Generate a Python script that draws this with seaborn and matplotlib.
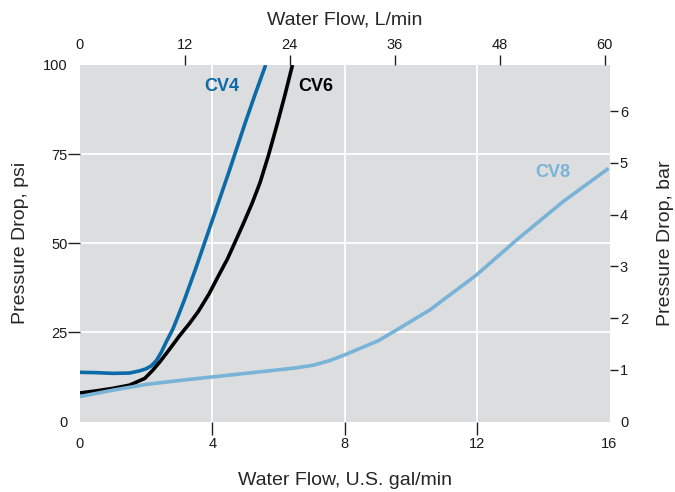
import numpy as np
import pandas as pd
import matplotlib
matplotlib.use("Agg")
import matplotlib.pyplot as plt
import seaborn as sns
from matplotlib.ticker import FixedLocator, NullFormatter

# ---- data (flow in U.S. gal/min, pressure drop in psi) ----
cv4_flow = [0, 0.5, 1.0, 1.5, 1.8, 2.0, 2.15, 2.3, 2.45, 2.62, 2.8, 3.0, 3.17, 3.5, 4.0, 4.5, 5.0, 5.3, 5.61]
cv4_psi = [13.8, 13.7, 13.5, 13.6, 14.2, 14.8, 15.6, 17.0, 19.3, 22.6, 25.8, 30.4, 34.5, 43.0, 56.5, 70.0, 84.0, 92.0, 100]

cv6_flow = [0, 0.5, 1.0, 1.5, 1.96, 2.2, 2.42, 2.7, 3.02, 3.3, 3.57, 3.9, 4.18, 4.45, 4.68, 4.95, 5.2, 5.44, 5.69, 5.94, 6.19, 6.42]
cv6_psi = [8.0, 8.6, 9.3, 10.2, 12.1, 14.4, 16.8, 20.2, 24.2, 27.4, 30.8, 35.8, 40.8, 45.5, 50.2, 55.8, 61.2, 67.0, 74.5, 82.8, 91.5, 100]

cv8_flow = [0, 1, 2, 3, 4, 5, 6, 6.5, 7.05, 7.55, 8.0, 9.0, 9.57, 10.57, 11.98, 13.19, 14.6, 15.97]
cv8_psi = [7.0, 8.8, 10.4, 11.5, 12.5, 13.5, 14.5, 15.0, 15.8, 17.1, 18.7, 22.6, 25.7, 31.3, 41.1, 50.9, 61.7, 71.0]

series_names = ["CV4", "CV6", "CV8"]
series_colors = ["#0b6aa8", "#000000", "#79b3d7"]

gal_ticks = [0, 4, 8, 12, 16]
lpm_ticks = [0, 12, 24, 36, 48, 60]
psi_ticks = [0, 25, 50, 75, 100]
bar_ticks = [0, 1, 2, 3, 4, 5, 6]

GAL_TO_L = 3.78541
PSI_PER_BAR = 14.5038

frames = []
for name, fx, fy in zip(series_names, [cv4_flow, cv6_flow, cv8_flow], [cv4_psi, cv6_psi, cv8_psi]):
    frames.append(pd.DataFrame({"flow": fx, "psi": fy, "valve": name}))
df = pd.concat(frames, ignore_index=True)

sns.set_style("white", {"axes.facecolor": "#dcdddf"})
plt.rcParams["font.family"] = ["Liberation Sans", "DejaVu Sans"]

fig = plt.figure(figsize=(6.75, 4.92), dpi=100)
ax = fig.add_axes([80 / 675, 1 - 421.5 / 492, 529.5 / 675, 356.5 / 492])

sns.lineplot(data=df, x="flow", y="psi", hue="valve", palette=dict(zip(series_names, series_colors)),
             linewidth=2.6, legend=False, sort=False, estimator=None, ax=ax)
for ln in ax.lines:
    ln.set_solid_joinstyle("round")
    ln.set_solid_capstyle("butt")

ax.set_xlim(0, 16)
ax.set_ylim(0, 100)
for s in ax.spines.values():
    s.set_visible(False)

tick_col = "#1a1a1a"
mark_col = "#222222"
fs_tick = 10.5
fs_lab = 14

# major ticks carry labels only; minor ticks carry visible marks + grid
ax.xaxis.remove_overlapping_locs = False
ax.yaxis.remove_overlapping_locs = False
ax.xaxis.set_major_locator(FixedLocator(gal_ticks))
ax.yaxis.set_major_locator(FixedLocator(psi_ticks))
ax.xaxis.set_minor_locator(FixedLocator(gal_ticks[1:-1]))
ax.yaxis.set_minor_locator(FixedLocator(psi_ticks[1:-1]))
ax.xaxis.set_minor_formatter(NullFormatter())
ax.yaxis.set_minor_formatter(NullFormatter())
ax.tick_params(which="both", bottom=True, left=True, top=False, right=False)
ax.tick_params(which="major", length=0, labelsize=fs_tick, labelcolor=tick_col)
ax.tick_params(axis="x", which="major", pad=11)
ax.tick_params(axis="y", which="major", pad=9)
ax.tick_params(which="minor", length=9, width=1.0, color=mark_col, direction="out")
ax.grid(which="minor", color="white", linewidth=1.3)
ax.grid(which="major", visible=False)
ax.set_axisbelow(True)

ax.set_xlabel("Water Flow, U.S. gal/min", fontsize=fs_lab, labelpad=15)
ax.set_ylabel("Pressure Drop, psi", fontsize=fs_lab, labelpad=10)

# top axis: L/min
top = ax.secondary_xaxis("top", functions=(lambda g: g * GAL_TO_L, lambda l: l / GAL_TO_L))
top.xaxis.remove_overlapping_locs = False
top.xaxis.set_major_locator(FixedLocator(lpm_ticks))
top.xaxis.set_minor_locator(FixedLocator(lpm_ticks[1:]))
top.xaxis.set_minor_formatter(NullFormatter())
top.tick_params(which="both", top=True, bottom=False)
top.tick_params(which="major", length=0, labelsize=fs_tick, labelcolor=tick_col, pad=9)
top.tick_params(which="minor", length=7, width=1.0, color=mark_col, direction="out")
for s in top.spines.values():
    s.set_visible(False)
top.set_xlabel("Water Flow, L/min", fontsize=fs_lab, labelpad=10)

# right axis: bar
right = ax.secondary_yaxis("right", functions=(lambda p: p / PSI_PER_BAR, lambda b: b * PSI_PER_BAR))
right.yaxis.remove_overlapping_locs = False
right.yaxis.set_major_locator(FixedLocator(bar_ticks))
right.yaxis.set_minor_locator(FixedLocator(bar_ticks[1:]))
right.yaxis.set_minor_formatter(NullFormatter())
right.tick_params(which="both", right=True, left=False)
right.tick_params(which="major", length=0, labelsize=fs_tick, labelcolor=tick_col, pad=7.5)
right.tick_params(which="minor", length=6, width=1.0, color=mark_col, direction="out")
for s in right.spines.values():
    s.set_visible(False)
right.set_ylabel("Pressure Drop, bar", fontsize=fs_lab, labelpad=21)

# series labels
label_pos = {"CV4": (4.29, 93.9), "CV6": (7.13, 93.9), "CV8": (14.29, 69.8)}
for name, col in zip(series_names, series_colors):
    x, y = label_pos[name]
    ax.text(x, y, name, color=col, fontsize=13, fontweight="bold", ha="center", va="center")

fig.savefig("out.png", dpi=100)
